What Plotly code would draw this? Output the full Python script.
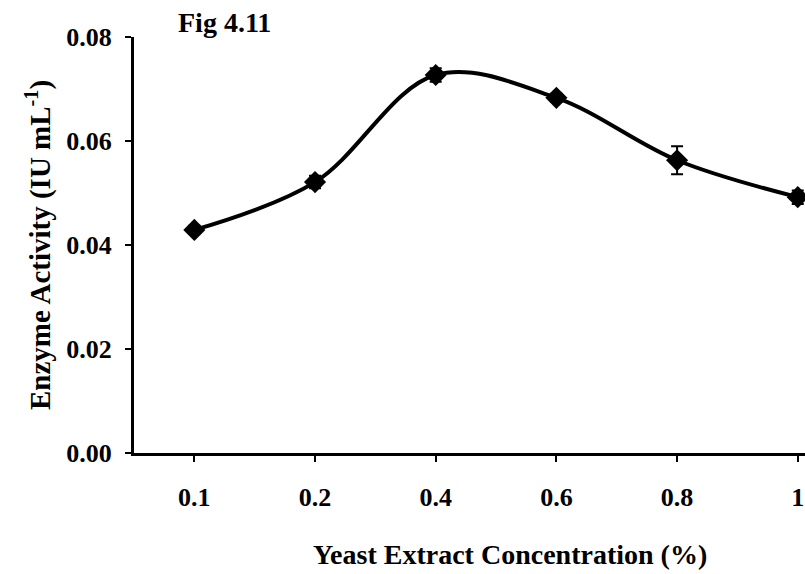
import plotly.graph_objects as go

# Yeast extract concentration (%) and measured enzyme activity
concentration = ["0.1", "0.2", "0.4", "0.6", "0.8", "1"]
activity = [0.0429, 0.0521, 0.0727, 0.0683, 0.0563, 0.0492]
activity_err = [0.0008, 0.0012, 0.0013, 0.0008, 0.0027, 0.0013]
y_ticks = [0.00, 0.02, 0.04, 0.06, 0.08]

serif = "Liberation Serif, Times New Roman, serif"

fig = go.Figure(
    go.Scatter(
        x=concentration,
        y=activity,
        mode="lines+markers",
        line=dict(color="black", width=4, shape="spline", smoothing=1.0),
        marker=dict(symbol="diamond", size=17, color="black"),
        error_y=dict(type="data", array=activity_err, visible=True,
                     color="black", thickness=2, width=6),
        cliponaxis=False,
        showlegend=False,
    )
)

fig.update_layout(
    width=805,
    height=574,
    margin=dict(l=134, r=0, t=37, b=121),
    paper_bgcolor="white",
    plot_bgcolor="white",
    font=dict(family=serif, color="black"),
    annotations=[
        dict(text="<b>Fig 4.11</b>", xref="paper", yref="paper",
             x=0.062, y=1.034, xanchor="left", yanchor="middle",
             showarrow=False, font=dict(size=28, family=serif)),
        dict(text="<b>Yeast Extract Concentration (%)</b>",
             xref="paper", yref="paper", x=0.56, y=-0.245,
             xanchor="center", yanchor="middle", showarrow=False,
             font=dict(size=28, family=serif)),
        dict(text="<b>Enzyme Activity (IU mL<sup>-1</sup>)</b>",
             xref="paper", yref="paper", x=-0.143, y=0.5,
             xanchor="center", yanchor="middle", textangle=-90,
             showarrow=False, font=dict(size=29, family=serif)),
    ],
)

fig.update_xaxes(
    type="category",
    range=[-0.5, 5.06],
    showline=True, linecolor="black", linewidth=3,
    ticks="outside", ticklen=6, tickwidth=2, tickcolor="black",
    showgrid=False, zeroline=False,
    tickfont=dict(size=26, family=serif, weight="bold"),
    ticklabelstandoff=13,
)

fig.update_yaxes(
    range=[0, 0.08],
    tickvals=y_ticks,
    tickformat=".2f",
    showline=True, linecolor="black", linewidth=3,
    ticks="outside", ticklen=6, tickwidth=2, tickcolor="black",
    showgrid=False, zeroline=False,
    tickfont=dict(size=26, family=serif, weight="bold"),
    ticklabelstandoff=8,
)

fig.write_html("out.html")
